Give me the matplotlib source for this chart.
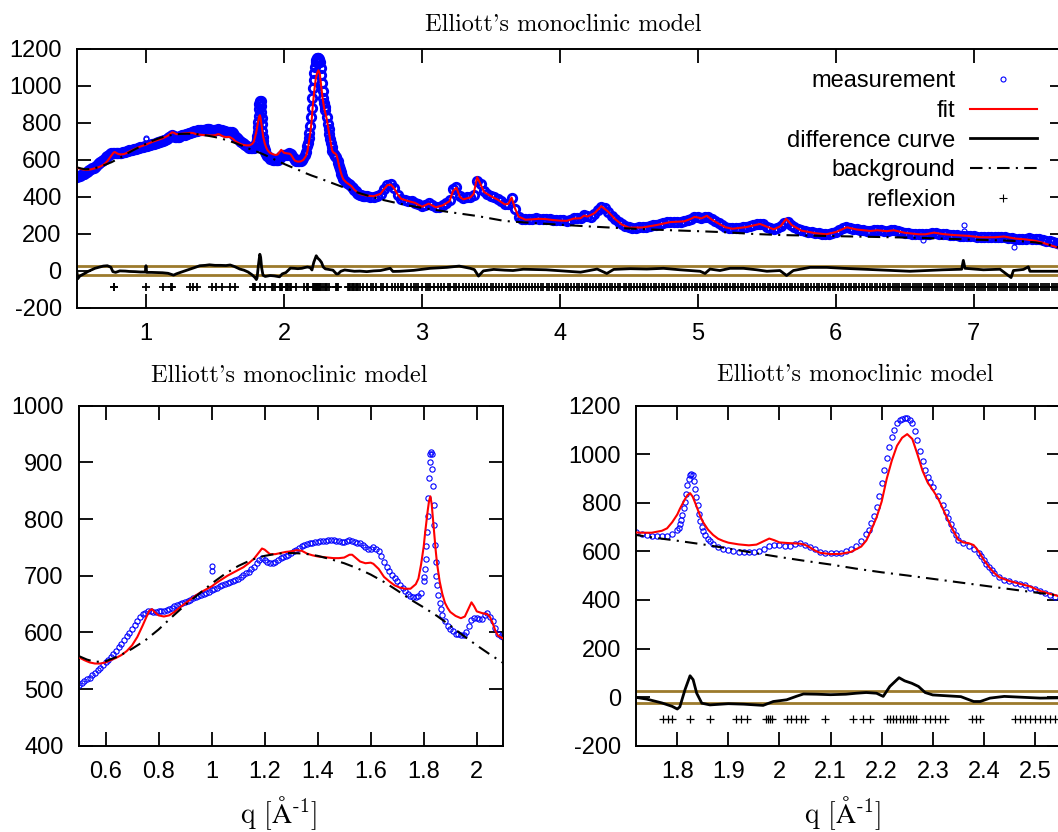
import matplotlib
matplotlib.use('Agg')
import matplotlib.pyplot as plt
from matplotlib.ticker import FuncFormatter
import numpy as np

plt.rcParams['font.family'] = ['Liberation Sans', 'DejaVu Sans']
plt.rcParams['axes.unicode_minus'] = False
plt.rcParams['mathtext.fontset'] = 'cm'

q_meas_a = [0.50, 0.51, 0.52, 0.53, 0.54, 0.55, 0.56, 0.57, 0.58, 0.59,
            0.60, 0.61, 0.62, 0.63, 0.64, 0.65, 0.66, 0.67, 0.68, 0.69,
            0.70, 0.71, 0.72, 0.73, 0.74, 0.75, 0.76, 0.77, 0.78, 0.79,
            0.80, 0.81, 0.82, 0.83, 0.84, 0.85, 0.86, 0.87, 0.88, 0.89,
            0.90, 0.91, 0.92, 0.93, 0.94, 0.95, 0.96, 0.97, 0.98, 0.99]
i_meas_a = [508, 511, 514, 517, 520, 524, 529, 534, 538, 543,
            548, 552, 557, 562, 568, 574, 580, 587, 593, 599,
            606, 613, 620, 627, 632, 635, 637, 637, 636, 636,
            637, 637, 638, 639, 641, 643, 646, 648, 650, 652,
            654, 656, 658, 660, 662, 664, 666, 668, 670, 672]

q_meas_b = [1.00, 1.01, 1.02, 1.03, 1.04, 1.05, 1.06, 1.07, 1.08, 1.09,
            1.10, 1.11, 1.12, 1.13, 1.14, 1.15, 1.16, 1.17, 1.18, 1.19,
            1.20, 1.21, 1.22, 1.23, 1.24, 1.25, 1.26, 1.27, 1.28, 1.29,
            1.30, 1.31, 1.32, 1.33, 1.34, 1.35, 1.36, 1.37, 1.38, 1.39,
            1.40, 1.41, 1.42, 1.43, 1.44, 1.45, 1.46, 1.47, 1.48, 1.49,
            1.50, 1.51, 1.52, 1.53, 1.54, 1.55, 1.56, 1.57, 1.58, 1.59,
            1.60, 1.61, 1.62, 1.63, 1.64, 1.65, 1.66, 1.67, 1.68, 1.69,
            1.70, 1.71, 1.72, 1.73, 1.74, 1.75, 1.76, 1.77, 1.78, 1.79]
i_meas_b = [674, 676, 678, 681, 683, 685, 687, 689, 691, 693,
            695, 698, 701, 704, 707, 711, 716, 722, 728, 731,
            728, 724, 722, 722, 725, 728, 731, 733, 735, 737,
            740, 743, 746, 749, 752, 754, 756, 757, 758, 759,
            760, 761, 762, 762, 763, 763, 763, 762, 761, 760,
            760, 761, 763, 762, 760, 758, 757, 754, 750, 747,
            747, 750, 748, 743, 735, 725, 716, 709, 702, 696,
            690, 684, 678, 673, 668, 665, 662, 663, 665, 670]

q_meas_c = [1.800, 1.8025, 1.805, 1.8075, 1.810, 1.8125, 1.815, 1.8175,
            1.820, 1.8225, 1.825, 1.8275, 1.830, 1.8325, 1.835, 1.8375,
            1.840, 1.8425, 1.845, 1.8475, 1.850, 1.855, 1.860, 1.865, 1.870]
i_meas_c = [690, 698, 712, 730, 752, 778, 805, 838,
            872, 900, 914, 919, 915, 888, 858, 825,
            790, 755, 725, 700, 684, 666, 652, 641, 631]

q_meas_d = [1.88, 1.89, 1.90, 1.91, 1.92, 1.93, 1.94, 1.95, 1.96, 1.97,
            1.98, 1.99, 2.00, 2.01, 2.02, 2.03, 2.04, 2.05, 2.06, 2.07,
            2.08, 2.09, 2.10, 2.11, 2.12, 2.13, 2.14, 2.15, 2.16, 2.17,
            2.175, 2.18, 2.185, 2.19, 2.195, 2.20, 2.205, 2.21, 2.215, 2.22,
            2.225, 2.23, 2.235, 2.24, 2.245, 2.25, 2.255, 2.26, 2.265, 2.27,
            2.275, 2.28, 2.285, 2.29, 2.295, 2.30, 2.31, 2.32, 2.325, 2.33,
            2.335, 2.34, 2.345, 2.35, 2.36, 2.37, 2.38, 2.39, 2.395, 2.40,
            2.405, 2.41, 2.415, 2.42, 2.43, 2.44, 2.45, 2.46, 2.47, 2.48,
            2.49, 2.50, 2.51, 2.52, 2.53, 2.54, 2.55, 2.56, 2.57, 2.58, 2.59]
i_meas_d = [620, 612, 606, 602, 598, 597, 596, 596, 600, 611,
            621, 625, 625, 624, 624, 630, 634, 628, 620, 608,
            597, 593, 592, 592, 594, 600, 610, 624, 643, 672,
            690, 715, 745, 782, 828, 880, 935, 985, 1030, 1070,
            1102, 1127, 1140, 1147, 1149, 1148, 1142, 1128, 1097, 1060,
            1015, 972, 935, 907, 885, 866, 830, 790, 763, 737,
            713, 690, 668, 648, 633, 622, 612, 594, 580, 565,
            550, 535, 522, 510, 494, 484, 477, 472, 466, 460,
            451, 444, 435, 428, 420, 414, 410, 407, 405, 404, 403]

q_meas_e = [2.600, 2.625, 2.650, 2.675, 2.700, 2.725, 2.750, 2.775, 2.800, 2.825,
            2.850, 2.875, 2.900, 2.925, 2.950, 2.975, 3.000, 3.025, 3.050, 3.075,
            3.100, 3.125, 3.150, 3.175, 3.200, 3.225, 3.250, 3.275, 3.300, 3.325,
            3.350, 3.375, 3.400, 3.425, 3.450, 3.475, 3.500, 3.525, 3.550, 3.575,
            3.600, 3.625, 3.650, 3.675, 3.700, 3.725, 3.750, 3.775, 3.800, 3.825,
            3.850, 3.875, 3.900, 3.925, 3.950, 3.975, 4.000, 4.025, 4.050, 4.075,
            4.100, 4.125, 4.150, 4.175, 4.200, 4.225, 4.250, 4.275, 4.300, 4.325,
            4.350, 4.375, 4.400, 4.425, 4.450, 4.475, 4.500, 4.525, 4.550, 4.575,
            4.600, 4.625, 4.650, 4.675, 4.700, 4.725, 4.750, 4.775, 4.800, 4.825,
            4.850, 4.875, 4.900, 4.925, 4.950, 4.975, 5.000, 5.025, 5.050, 5.075,
            5.100, 5.125, 5.150, 5.175, 5.200, 5.225, 5.250, 5.275, 5.300, 5.325,
            5.350, 5.375, 5.400, 5.425, 5.450, 5.475, 5.500, 5.525, 5.550, 5.575,
            5.600, 5.625, 5.650, 5.675, 5.700, 5.725, 5.750, 5.775, 5.800, 5.825,
            5.850, 5.875, 5.900, 5.925, 5.950, 5.975, 6.000, 6.025, 6.050, 6.075,
            6.100, 6.125, 6.150, 6.175, 6.200, 6.225, 6.250, 6.275, 6.300, 6.325,
            6.350, 6.375, 6.400, 6.425, 6.450, 6.475, 6.500, 6.525, 6.550, 6.575,
            6.600, 6.625, 6.650, 6.675, 6.700, 6.725, 6.750, 6.775, 6.800, 6.825,
            6.850, 6.875, 6.900, 6.925, 6.950, 6.975, 7.000, 7.025, 7.050, 7.075,
            7.100, 7.125, 7.150, 7.175, 7.200, 7.225, 7.250, 7.275, 7.300, 7.325,
            7.350, 7.375, 7.400, 7.425, 7.450, 7.475, 7.500, 7.525, 7.550, 7.575,
            7.600, 7.625, 7.650]
i_meas_e = [402, 400, 400, 405, 415, 443, 465, 470, 445, 408,
            388, 380, 377, 374, 368, 358, 350, 356, 366, 352,
            346, 346, 356, 366, 380, 440, 452, 405, 390, 398,
            398, 410, 485, 470, 430, 415, 405, 397, 386, 375,
            360, 360, 392, 335, 292, 280, 277, 277, 279, 282,
            281, 280, 279, 277, 275, 273, 272, 271, 270, 276,
            282, 282, 284, 298, 294, 292, 308, 328, 345, 340,
            318, 297, 280, 264, 250, 240, 234, 232, 232, 233,
            235, 237, 240, 244, 248, 252, 256, 261, 264, 264,
            264, 264, 268, 273, 280, 290, 288, 282, 292, 292,
            278, 268, 256, 244, 236, 230, 228, 229, 231, 233,
            237, 241, 246, 250, 254, 250, 237, 228, 224, 230,
            240, 258, 262, 248, 234, 224, 217, 212, 208, 206,
            204, 201, 199, 197, 199, 203, 209, 218, 228, 233,
            230, 226, 223, 221, 218, 215, 216, 218, 219, 217,
            215, 214, 217, 218, 213, 208, 204, 201, 198, 197,
            196, 195, 197, 200, 204, 203, 200, 197, 195, 193,
            192, 190, 189, 188, 188, 187, 186, 183, 180, 179,
            179, 179, 180, 182, 183, 181, 177, 175, 172, 170,
            170, 172, 174, 172, 170, 168, 165, 162, 158, 153,
            148, 143, 138]

# stray measured points away from the band
q_stray = [1.000, 1.001, 6.632, 6.930, 6.931, 7.290]
i_stray = [717, 709, 165, 245, 214, 125]

q_fit = [0.50, 0.52, 0.54, 0.56, 0.58, 0.60, 0.62, 0.64, 0.66, 0.68,
         0.70, 0.72, 0.74, 0.755, 0.765, 0.775, 0.785, 0.80, 0.82, 0.84,
         0.86, 0.88, 0.90, 0.92, 0.94, 0.96, 0.98, 1.00, 1.02, 1.04,
         1.06, 1.08, 1.10, 1.12, 1.14, 1.16, 1.18, 1.19, 1.20, 1.22,
         1.24, 1.26, 1.28, 1.30, 1.32, 1.34, 1.36, 1.38, 1.40, 1.42,
         1.44, 1.46, 1.48, 1.50, 1.52, 1.53, 1.54, 1.56, 1.58, 1.60,
         1.61, 1.63, 1.65, 1.67, 1.69, 1.71, 1.73, 1.75, 1.77, 1.78,
         1.79, 1.80, 1.805, 1.81, 1.815, 1.82, 1.825, 1.83, 1.835, 1.84,
         1.845, 1.85, 1.86, 1.87, 1.88, 1.89, 1.90, 1.92, 1.94, 1.955,
         1.97, 1.98, 1.99, 2.00, 2.02, 2.04, 2.05, 2.06, 2.07, 2.08,
         2.10, 2.12, 2.14, 2.16, 2.17, 2.18, 2.19, 2.20, 2.21, 2.22,
         2.23, 2.24, 2.25, 2.26, 2.27, 2.28, 2.29, 2.30, 2.31, 2.32,
         2.33, 2.34, 2.35, 2.36, 2.37, 2.38, 2.39, 2.40, 2.41, 2.42,
         2.43, 2.45, 2.47, 2.49, 2.51, 2.53, 2.55, 2.60, 2.65, 2.70,
         2.725, 2.75, 2.775, 2.80, 2.825, 2.85, 2.90, 2.95, 3.00, 3.05,
         3.10, 3.15, 3.20, 3.225, 3.25, 3.275, 3.30, 3.35, 3.375, 3.40,
         3.42, 3.45, 3.50, 3.55, 3.60, 3.625, 3.65, 3.675, 3.70, 3.75,
         3.80, 3.85, 3.90, 3.95, 4.00, 4.05, 4.10, 4.15, 4.175, 4.20,
         4.25, 4.30, 4.35, 4.40, 4.45, 4.50, 4.60, 4.70, 4.80, 4.90,
         4.95, 4.975, 5.00, 5.025, 5.065, 5.10, 5.15, 5.20, 5.25, 5.35,
         5.45, 5.50, 5.55, 5.60, 5.64, 5.68, 5.75, 5.85, 5.93, 6.00,
         6.08, 6.15, 6.25, 6.30, 6.37, 6.42, 6.50, 6.60, 6.65, 6.71,
         6.78, 6.85, 6.95, 7.05, 7.15, 7.22, 7.30, 7.38, 7.45, 7.50,
         7.55, 7.60, 7.65]
i_fit = [556, 551, 547, 545, 545, 547, 551, 555, 560, 567,
         577, 592, 612, 628, 638, 641, 636, 630, 628, 630,
         636, 644, 651, 658, 665, 671, 676, 681, 688, 694,
         700, 705, 710, 715, 722, 730, 742, 748, 746, 738,
         738, 740, 742, 743, 745, 744, 739, 736, 734, 733,
         732, 731, 731, 732, 737, 737, 733, 725, 722, 723,
         721, 712, 698, 690, 683, 679, 677, 677, 685, 695,
         720, 752, 775, 795, 815, 832, 840, 826, 800, 772,
         745, 722, 690, 668, 652, 643, 636, 629, 625, 628,
         643, 653, 646, 637, 634, 632, 627, 616, 603, 594,
         589, 590, 598, 620, 645, 690, 740, 805, 900, 975,
         1035, 1068, 1083, 1063, 1000, 932, 884, 853, 820, 775,
         728, 686, 648, 637, 634, 626, 600, 565, 536, 512,
         494, 478, 467, 456, 437, 425, 414, 405, 402, 415,
         440, 462, 465, 443, 410, 388, 376, 366, 345, 362,
         342, 352, 375, 430, 448, 398, 385, 395, 415, 505,
         475, 425, 402, 383, 358, 360, 395, 335, 292, 275,
         277, 280, 278, 273, 270, 269, 281, 283, 297, 292,
         310, 348, 318, 278, 248, 232, 233, 246, 262, 266,
         280, 290, 287, 282, 296, 276, 254, 234, 226, 235,
         252, 237, 223, 240, 280, 246, 216, 202, 196, 208,
         234, 222, 214, 218, 213, 218, 204, 196, 196, 205,
         197, 192, 188, 180, 180, 184, 173, 168, 160, 150,
         138, 126, 115]

q_bg = [0.50, 0.53, 0.56, 0.60, 0.65, 0.70, 0.75, 0.80, 0.85, 0.90,
        0.95, 1.00, 1.05, 1.10, 1.15, 1.20, 1.25, 1.30, 1.35, 1.40,
        1.45, 1.50, 1.55, 1.60, 1.65, 1.70, 1.75, 1.80, 1.85, 1.90,
        1.95, 2.00, 2.05, 2.10, 2.15, 2.20, 2.25, 2.30, 2.35, 2.40,
        2.45, 2.50, 2.55, 2.60, 2.70, 2.80, 2.90, 3.00, 3.20, 3.40,
        3.60, 3.80, 4.00, 4.20, 4.40, 4.60, 4.80, 5.00, 5.20, 5.40,
        5.60, 5.80, 6.00, 6.20, 6.40, 6.60, 6.80, 7.00, 7.20, 7.35,
        7.45, 7.55, 7.65]
i_bg = [558, 552, 548, 549, 558, 571, 586, 605, 627, 648,
        667, 686, 703, 717, 728, 735, 739, 740, 739, 735,
        729, 722, 713, 702, 689, 674, 658, 644, 629, 612,
        594, 577, 561, 546, 529, 514, 501, 487, 473, 459,
        445, 431, 418, 407, 385, 368, 352, 339, 316, 295,
        268, 257, 248, 239, 231, 224, 218, 213, 207, 198,
        192, 189, 186, 183, 180, 177, 172, 167, 163, 158,
        152, 138, 118]

q_diff = [0.50, 0.505, 0.52, 0.55, 0.58, 0.60, 0.63, 0.66, 0.69, 0.72,
          0.745, 0.76, 0.78, 0.81, 0.85, 0.88, 0.92, 0.96, 0.995, 1.00,
          1.005, 1.04, 1.08, 1.12, 1.16, 1.20, 1.22, 1.25, 1.29, 1.32,
          1.36, 1.39, 1.43, 1.46, 1.50, 1.54, 1.58, 1.61, 1.64, 1.68,
          1.71, 1.74, 1.77, 1.79, 1.80, 1.805, 1.815, 1.825, 1.831, 1.838,
          1.848, 1.864, 1.90, 1.93, 1.955, 1.968, 1.988, 2.014, 2.034, 2.047,
          2.073, 2.10, 2.13, 2.15, 2.17, 2.19, 2.203, 2.216, 2.234, 2.245,
          2.259, 2.272, 2.285, 2.30, 2.33, 2.355, 2.38, 2.393, 2.412, 2.44,
          2.47, 2.51, 2.55, 2.60, 2.65, 2.70, 2.77, 2.79, 2.84, 2.94,
          3.06, 3.18, 3.27, 3.35, 3.38, 3.41, 3.445, 3.52, 3.60, 3.66,
          3.735, 3.90, 4.05, 4.15, 4.27, 4.34, 4.39, 4.51, 4.63, 4.75,
          4.87, 5.016, 5.052, 5.088, 5.16, 5.233, 5.33, 5.426, 5.50, 5.595,
          5.643, 5.692, 5.813, 5.934, 6.054, 6.175, 6.296, 6.417, 6.537, 6.658,
          6.779, 6.912, 6.924, 6.936, 7.069, 7.19, 7.27, 7.287, 7.36, 7.395,
          7.407, 7.65]
i_diff = [-12, -45, -30, -18, -5, 2, 12, 18, 24, 26,
          18, -6, -10, -2, -3, -5, -6, -8, -8, 26,
          -10, -10, -11, -12, -15, -25, -18, -10, 0, 8,
          18, 26, 28, 31, 28, 28, 27, 30, 22, 8,
          2, -8, -24, -38, -49, -40, 30, 88, 72, 16,
          -25, -32, -27, -29, -32, -34, -18, -11, 4, 13,
          12, 10, 12, 16, 19, 16, 3, 44, 80, 67,
          57, 44, 19, 9, 5, 2, -18, -18, -4, 3,
          0, -4, -3, -6, -2, 0, 12, -5, -4, 1,
          12, 17, 24, 12, 5, -30, -2, 6, 2, 0,
          7, 4, -4, -9, 8, -16, 6, 10, 8, 12,
          4, -4, -16, 8, 0, 12, 12, 4, -4, 0,
          -27, 0, 17, 17, 12, 8, 4, 0, -4, 0,
          4, 7, 55, 12, 4, 7, -38, 0, 6, 20,
          -4, -4]

q_refl = [0.765, 0.771, 0.998, 1.125, 1.183, 1.189, 1.320, 1.344, 1.368, 1.475,
          1.511, 1.548, 1.608, 1.643, 1.773, 1.781, 1.790, 1.825, 1.864, 1.915,
          1.924, 1.937, 1.974, 1.978, 1.981, 1.985, 2.014, 2.023, 2.032, 2.042,
          2.049, 2.089, 2.144, 2.164, 2.177, 2.210, 2.216, 2.223, 2.229, 2.236,
          2.242, 2.249, 2.255, 2.262, 2.268, 2.284, 2.294, 2.304, 2.314, 2.323,
          2.376, 2.385, 2.392, 2.461, 2.471, 2.480, 2.490, 2.500, 2.510, 2.519,
          2.529, 2.539, 2.552, 2.575, 2.601, 2.628, 2.648, 2.665, 2.702, 2.721,
          2.745, 2.781, 2.802, 2.829, 2.848, 2.862, 2.891, 2.918, 2.940, 2.958,
          2.973, 3.004, 3.028, 3.047, 3.062, 3.091, 3.118, 3.139, 3.161, 3.188,
          3.207, 3.229, 3.248, 3.271, 3.298, 3.317, 3.339, 3.362, 3.388, 3.407,
          3.428, 3.451, 3.470, 3.497, 3.518, 3.539, 3.561, 3.583, 3.607, 3.628,
          3.649, 3.668, 3.690, 3.712, 3.733, 3.757, 3.778, 3.799, 3.821, 3.842,
          3.860, 3.881, 3.903, 3.922, 3.941, 3.963, 3.982, 4.001, 4.022, 4.043,
          4.061, 4.080, 4.102, 4.121, 4.140, 4.162, 4.181, 4.200, 4.221, 4.240,
          4.259, 4.281, 4.300, 4.319, 4.341, 4.360, 4.379, 4.401, 4.420, 4.439,
          4.461, 4.480, 4.499, 4.518, 4.540, 4.559, 4.578, 4.600, 4.619, 4.638,
          4.657, 4.679, 4.698, 4.717, 4.739, 4.758, 4.777, 4.796, 4.818, 4.837,
          4.856, 4.878, 4.897, 4.916, 4.935, 4.957, 4.976, 4.995, 5.014, 5.036,
          5.055, 5.074, 5.093, 5.115, 5.134, 5.153, 5.172, 5.194, 5.213, 5.232,
          5.251, 5.270, 5.292, 5.311, 5.330, 5.349, 5.371, 5.390, 5.409, 5.428,
          5.450, 5.469, 5.488, 5.507, 5.526, 5.548, 5.567, 5.586, 5.605, 5.627,
          5.646, 5.665, 5.684, 5.703, 5.725, 5.744, 5.763, 5.782, 5.801, 5.823,
          5.842, 5.861, 5.880, 5.899, 5.921, 5.940, 5.959, 5.978, 5.997, 6.016,
          6.035, 6.054, 6.073, 6.092, 6.111, 6.130, 6.149, 6.168, 6.187, 6.206,
          6.225, 6.244, 6.263, 6.282, 6.301, 6.320, 6.339, 6.358, 6.377, 6.396,
          6.412, 6.428, 6.444, 6.460, 6.476, 6.492, 6.508, 6.524, 6.540, 6.556,
          6.572, 6.588, 6.604, 6.620, 6.636, 6.652, 6.668, 6.684, 6.700, 6.716,
          6.732, 6.748, 6.764, 6.780, 6.796, 6.812, 6.828, 6.844, 6.860, 6.876,
          6.892, 6.908, 6.924, 6.940, 6.956, 6.972, 6.988, 7.004, 7.020, 7.036,
          7.052, 7.068, 7.084, 7.100, 7.116, 7.132, 7.148, 7.164, 7.180, 7.196,
          7.212, 7.228, 7.244, 7.260, 7.276, 7.292, 7.308, 7.324, 7.340, 7.356,
          7.372, 7.388, 7.404, 7.420, 7.436, 7.452, 7.468, 7.484, 7.500, 7.516,
          7.532, 7.548, 7.564, 7.580, 7.596, 7.612, 7.628, 7.644]
refl_level = -90
band = 25

q_meas = q_meas_a + q_meas_b + q_meas_c + q_meas_d + q_meas_e
i_meas = i_meas_a + i_meas_b + i_meas_c + i_meas_d + i_meas_e

TITLE = "Elliott's monoclinic model"
W, H = 1058, 832
BROWN = '#9c7a2c'


def box(left, top, right, bottom):
    """axes rectangle from pixel edges"""
    return [left / W, 1 - bottom / H, (right - left) / W, (bottom - top) / H]


def draw(ax, xlim, ylim, xticks, yticks, ms, mew, refl_mew):
    ax.axhline(band, color=BROWN, lw=2, zorder=1)
    ax.axhline(-band, color=BROWN, lw=2, zorder=1)
    ax.plot(q_meas, i_meas, ls='none', marker='o', ms=ms, mfc='none',
            mec='blue', mew=mew, label='measurement', zorder=2)
    ax.plot(q_stray, i_stray, ls='none', marker='o', ms=3.6, mfc='none',
            mec='blue', mew=0.8, zorder=2)
    ax.plot(q_fit, i_fit, color='red', lw=1.5, label='fit', zorder=3)
    ax.plot(q_diff, i_diff, color='black', lw=2, label='difference curve', zorder=3)
    ax.plot(q_bg, i_bg, color='black', lw=1.5, dashes=[6, 3, 1, 3],
            label='background', zorder=4)
    ax.plot(q_refl, np.full(len(q_refl), refl_level), ls='none', marker='+',
            ms=6, mec='black', mew=refl_mew, label='reflexion', zorder=4)
    ax.set_xlim(*xlim)
    ax.set_ylim(*ylim)
    ax.set_xticks(xticks)
    ax.set_yticks(yticks)
    fmt = FuncFormatter(lambda v, p: '%g' % v)
    ax.xaxis.set_major_formatter(fmt)
    ax.yaxis.set_major_formatter(fmt)
    ax.tick_params(direction='in', length=10, width=1.3, top=True, right=True,
                   labelsize=17, pad=11)
    for s in ax.spines.values():
        s.set_linewidth(1.4)


fig = plt.figure(figsize=(W / 100, H / 100), dpi=100)

ax_top = fig.add_axes(box(77, 48.7, 1063.5, 307.5))
draw(ax_top, (0.5, 7.65), (-200, 1200), [1, 2, 3, 4, 5, 6, 7],
     range(-200, 1201, 200), 6, 2.1, 1.3)
leg = ax_top.legend(loc='upper right', bbox_to_anchor=(1037 / W, 1 - 70 / H),
                    bbox_transform=fig.transFigure, frameon=False,
                    markerfirst=False, fontsize=17, handlelength=2.85,
                    handletextpad=0.6, labelspacing=0.33, borderpad=0,
                    borderaxespad=0, numpoints=1)
leg.legend_handles[0].set_markersize(3.6)
leg.legend_handles[0].set_markeredgewidth(0.8)
leg.legend_handles[4].set_markeredgewidth(0.8)

ax_bl = fig.add_axes(box(79, 405.7, 503.3, 745.7))
draw(ax_bl, (0.5, 2.1), (400, 1000), [0.6, 0.8, 1.0, 1.2, 1.4, 1.6, 1.8, 2.0],
     range(400, 1001, 100), 3.8, 0.8, 0.9)

ax_br = fig.add_axes(box(636.4, 405.7, 1060.5, 745.7))
draw(ax_br, (1.72, 2.55), (-200, 1200),
     [1.8, 1.9, 2.0, 2.1, 2.2, 2.3, 2.4, 2.5], range(-200, 1201, 200),
     3.8, 0.8, 0.9)

# titles and axis labels in a TeX-like serif
for x, y in [(563, 25), (289, 376), (855, 375)]:
    fig.text(x / W, 1 - y / H, TITLE, family='cmr10', fontsize=17.5,
             ha='center', va='center')
for x in [279, 843]:
    fig.text(x / W, 1 - 823 / H, r'q [$\mathrm{\AA}^{\text{-1}}$]',
             family='cmr10', fontsize=20, ha='center', va='baseline')

fig.savefig('out.png', dpi=100)
